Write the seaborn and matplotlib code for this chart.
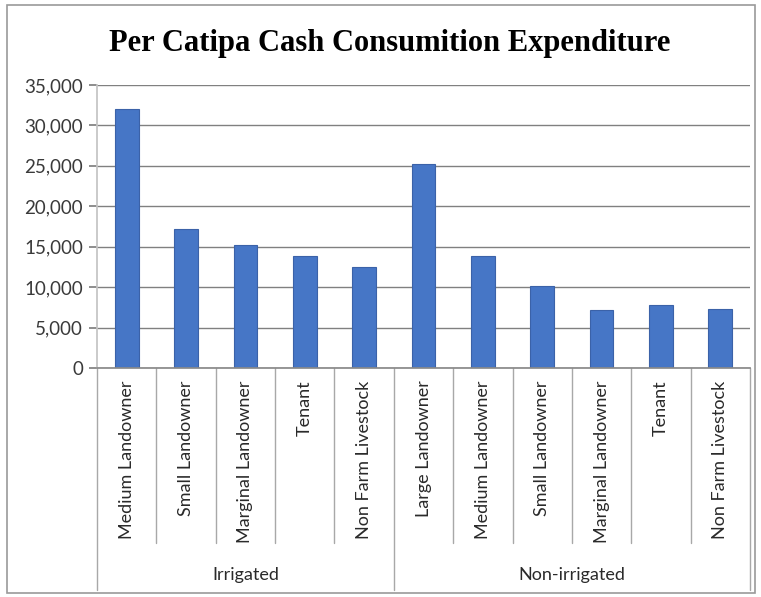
import matplotlib
matplotlib.use("Agg")
import matplotlib.pyplot as plt
import matplotlib.transforms as mtransforms
from matplotlib.patches import Rectangle
import seaborn as sns
import pandas as pd

groups = ["Irrigated", "Non-irrigated"]
irrigated_categories = ["Medium Landowner", "Small Landowner", "Marginal Landowner",
                        "Tenant", "Non Farm Livestock"]
irrigated_values = [32000, 17200, 15200, 13800, 12500]
nonirrigated_categories = ["Large Landowner", "Medium Landowner", "Small Landowner",
                           "Marginal Landowner", "Tenant", "Non Farm Livestock"]
nonirrigated_values = [25200, 13900, 10100, 7200, 7800, 7300]
y_ticks = [0, 5000, 10000, 15000, 20000, 25000, 30000, 35000]

labels = irrigated_categories + nonirrigated_categories
values = irrigated_values + nonirrigated_values
group_of = [groups[0]] * len(irrigated_categories) + [groups[1]] * len(nonirrigated_categories)
df = pd.DataFrame({
    "slot": [f"{g}|{c}" for g, c in zip(group_of, labels)],
    "label": labels,
    "value": values,
})

sns.set_theme(style="white")
plt.rcParams["font.family"] = ["Lato", "DejaVu Sans"]

W, H = 761, 597
fig = plt.figure(figsize=(W / 100, H / 100), dpi=100)
fig.patch.set_facecolor("white")

left, right, top, bottom = 97, 750, 85, 368
ax = fig.add_axes([left / W, 1 - bottom / H, (right - left) / W, (bottom - top) / H])

sns.barplot(data=df, x="slot", y="value", order=df["slot"], color="#4676C6",
            width=0.4, saturation=1, edgecolor="#3B62A8", linewidth=0.8, ax=ax)

ax.set_ylim(0, 35000)
ax.set_xlim(-0.5, len(labels) - 0.5)
ax.set_yticks(y_ticks)
ax.set_yticklabels([f"{v:,}" for v in y_ticks], fontsize=13.5, color="#3a3a3a")
ax.yaxis.grid(True, color="#808080", linewidth=1.0)
ax.set_axisbelow(True)
ax.set_xlabel("")
ax.set_ylabel("")
for side in ["top", "right"]:
    ax.spines[side].set_visible(False)
ax.spines["left"].set_color("#c4c4c4")
ax.spines["bottom"].set_color("#8a8a8a")
ax.tick_params(axis="y", length=6, color="#808080", pad=4, left=True)

ax.set_xticks(range(len(labels)))
ax.set_xticklabels(labels, rotation=90, fontsize=13, color="#2a2a2a", va="top")
ax.tick_params(axis="x", length=0, pad=9)

# category and group separators beneath the axis
trans = mtransforms.blended_transform_factory(ax.transData, ax.transAxes)
axh = bottom - top
cat_end = -(543 - bottom) / axh
grp_end = -(590 - bottom) / axh
n1 = len(irrigated_categories)
for i in range(len(labels) + 1):
    x = i - 0.5
    outer = i in (0, len(labels), n1)
    ax.plot([x, x], [0, grp_end if outer else cat_end], transform=trans,
            color="#a8a8a8", linewidth=1.0, clip_on=False)

centers = [(n1 - 1) / 2, n1 + (len(nonirrigated_categories) - 1) / 2]
for g, cx in zip(groups, centers):
    ax.text(cx, -(575 - bottom) / axh, g, transform=trans, ha="center", va="center",
            fontsize=13, color="#2a2a2a")

fig.text(0.512, 1 - 44 / H, "Per Catipa Cash Consumition Expenditure",
         ha="center", va="center", fontsize=22, fontweight="bold",
         family=["Liberation Serif", "DejaVu Serif"], color="black")

fig.patches.append(Rectangle((7 / W, 4 / H), (W - 13) / W, (H - 9) / H,
                             transform=fig.transFigure, fill=False,
                             edgecolor="#9a9a9a", linewidth=1.2))

fig.savefig("out.png", dpi=100)
